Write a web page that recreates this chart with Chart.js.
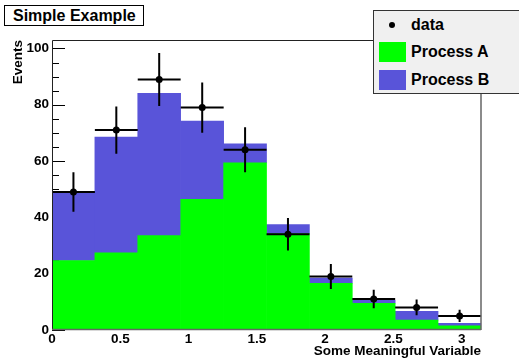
<!DOCTYPE html>
<html>
<head>
<meta charset="utf-8">
<title>Simple Example</title>
<script src="https://cdn.jsdelivr.net/npm/chart.js@4"></script>
<style>
  body { margin: 0; background: #fff; }
  #wrap { position: relative; width: 519px; height: 359px; overflow: hidden;
          font-family: "Liberation Sans", Arial, Helvetica, sans-serif; }
  #chart { position: absolute; left: 0; top: 0; }
  #title { position: absolute; left: 4px; top: 5px; width: 130px; height: 19px;
           border: 1px solid #000; background: #fff; font-weight: bold; font-size: 16px;
           line-height: 19px; padding-left: 8px; box-sizing: content-box; }
  #legend { position: absolute; left: 373px; top: 10px; width: 170px; height: 82px;
            background: #f0f0f0; border: 1px solid #333; font-weight: bold; font-size: 16px; }
  #legend .row { position: absolute; left: 37px; height: 20px; line-height: 20px; }
  #legend .sw { position: absolute; left: 5px; width: 27px; height: 20px; }
  #legend .dot { position: absolute; left: 15px; top: 11px; width: 6px; height: 6px;
                 border-radius: 50%; background: #000; }
</style>
</head>
<body>
<div id="wrap">
  <canvas id="chart" width="519" height="359"></canvas>
  <div id="title">Simple Example</div>
  <div id="legend">
    <div class="dot"></div>
    <div class="row" style="top:4px">data</div>
    <div class="sw" style="top:31px;background:#00ff00"></div>
    <div class="row" style="top:31px">Process A</div>
    <div class="sw" style="top:59px;background:#5954d9"></div>
    <div class="row" style="top:59px">Process B</div>
  </div>
</div>
<script>
// histogram contents, 10 bins from 0 to pi
const binCenters = [0.157, 0.471, 0.785, 1.100, 1.414, 1.728, 2.042, 2.356, 2.670, 2.985];
const processA = [24.7, 27.4, 33.5, 46.4, 59.4, 34.2, 16.6, 9.5, 3.5, 1.5];
const processB = [24.4, 41.1, 50.6, 27.8, 6.7, 3.2, 1.8, 1.0, 3.1, 0.9];
const dataCounts = [49, 71, 89, 79, 64, 34, 19, 11, 8, 5];
const dataErrors = [7.0, 8.4, 9.4, 8.9, 8.0, 5.8, 4.4, 3.3, 2.8, 2.2];

const xTicks = [0, 0.5, 1, 1.5, 2, 2.5, 3];
const xTickLabels = ['0', '0.5', '1', '1.5', '2', '2.5', '3'];
const yTicks = [0, 20, 40, 60, 80, 100];
const yTickLabels = ['0', '20', '40', '60', '80', '100'];
const yMinorStep = 5;
const binWidth = Math.PI / 10;

const axisFont = { family: '"Liberation Sans", Arial, Helvetica, sans-serif', size: 13.5, weight: 'bold' };

// ROOT style: ticks inside the frame, frame drawn on top
const rootFrame = {
    id: 'rootFrame',
    beforeDatasetsDraw(chart) {
        const { ctx, chartArea: a, scales: { y } } = chart;
        ctx.save();
        ctx.strokeStyle = '#000';
        ctx.lineWidth = 1;
        ctx.beginPath();
        for (let v = 0; v <= y.max; v += yMinorStep) {
            const py = Math.round(y.getPixelForValue(v)) + 0.5;
            const len = (v % 20 === 0) ? 13 : 7;
            ctx.moveTo(a.left, py);
            ctx.lineTo(a.left + len, py);
        }
        ctx.stroke();
        ctx.restore();
    },
    afterDatasetsDraw(chart) {
        const { ctx, chartArea: a, scales: { x, y } } = chart;
        ctx.save();
        // error bars
        ctx.strokeStyle = '#000';
        ctx.lineWidth = 2;
        ctx.beginPath();
        binCenters.forEach((c, i) => {
            const px = x.getPixelForValue(c);
            const py = y.getPixelForValue(dataCounts[i]);
            ctx.moveTo(x.getPixelForValue(c - binWidth / 2), py);
            ctx.lineTo(x.getPixelForValue(c + binWidth / 2), py);
            ctx.moveTo(px, y.getPixelForValue(dataCounts[i] - dataErrors[i]));
            ctx.lineTo(px, y.getPixelForValue(dataCounts[i] + dataErrors[i]));
        });
        ctx.stroke();
        // frame
        ctx.lineWidth = 1;
        ctx.strokeStyle = '#222';
        ctx.beginPath();
        ctx.moveTo(a.left + 0.5, a.bottom);
        ctx.lineTo(a.left + 0.5, a.top + 0.5);
        ctx.lineTo(a.right, a.top + 0.5);
        ctx.stroke();
        ctx.strokeStyle = '#666';
        ctx.lineWidth = 1.5;
        ctx.beginPath();
        ctx.moveTo(a.right, a.top);
        ctx.lineTo(a.right, a.bottom);
        ctx.moveTo(a.left, a.bottom - 0.5);
        ctx.lineTo(a.right, a.bottom - 0.5);
        ctx.stroke();
        ctx.restore();
    }
};

const ctx = document.getElementById('chart').getContext('2d');
new Chart(ctx, {
    type: 'bar',
    data: {
        datasets: [{
            type: 'scatter',
            label: 'data',
            data: binCenters.map((c, i) => ({ x: c, y: dataCounts[i] })),
            backgroundColor: '#000',
            borderColor: '#000',
            pointRadius: 3.5,
            pointBorderWidth: 0,
            stack: 'data'
        }, {
            label: 'Process A',
            data: binCenters.map((c, i) => ({ x: c, y: processA[i] })),
            backgroundColor: '#00ff00',
            borderWidth: 0,
            barPercentage: 1,
            categoryPercentage: 1,
            stack: 'mc'
        }, {
            label: 'Process B',
            data: binCenters.map((c, i) => ({ x: c, y: processB[i] })),
            backgroundColor: '#5954d9',
            borderWidth: 0,
            barPercentage: 1,
            categoryPercentage: 1,
            stack: 'mc'
        }]
    },
    options: {
        responsive: false,
        animation: false,
        layout: { padding: { top: 40, right: 38, left: 0, bottom: 0 } },
        plugins: {
            legend: { display: false },
            tooltip: { enabled: false }
        },
        scales: {
            x: {
                type: 'linear',
                min: 0,
                max: Math.PI,
                offset: false,
                stacked: true,
                grid: { display: false, drawTicks: false, offset: false },
                border: { display: false },
                afterBuildTicks: (s) => { s.ticks = xTicks.map(v => ({ value: v })); },
                afterFit: (s) => { s.height = 29; },
                ticks: {
                    autoSkip: false,
                    maxRotation: 0,
                    padding: 1,
                    color: '#000',
                    font: axisFont,
                    callback: (v, i) => xTickLabels[i]
                },
                title: {
                    display: true,
                    text: 'Some Meaningful Variable',
                    align: 'end',
                    color: '#000',
                    font: axisFont,
                    padding: { top: 0, bottom: 0 }
                }
            },
            y: {
                min: 0,
                max: 103,
                stacked: true,
                grid: { display: false, drawTicks: false },
                border: { display: false },
                afterBuildTicks: (s) => { s.ticks = yTicks.map(v => ({ value: v })); },
                afterFit: (s) => { s.width = 52; },
                ticks: {
                    autoSkip: false,
                    padding: 3,
                    color: '#000',
                    font: axisFont,
                    callback: (v, i) => yTickLabels[i]
                },
                title: {
                    display: true,
                    text: 'Events',
                    align: 'end',
                    color: '#000',
                    font: axisFont,
                    padding: { top: 10, bottom: 0 }
                }
            }
        }
    },
    plugins: [rootFrame]
});
</script>
</body>
</html>
